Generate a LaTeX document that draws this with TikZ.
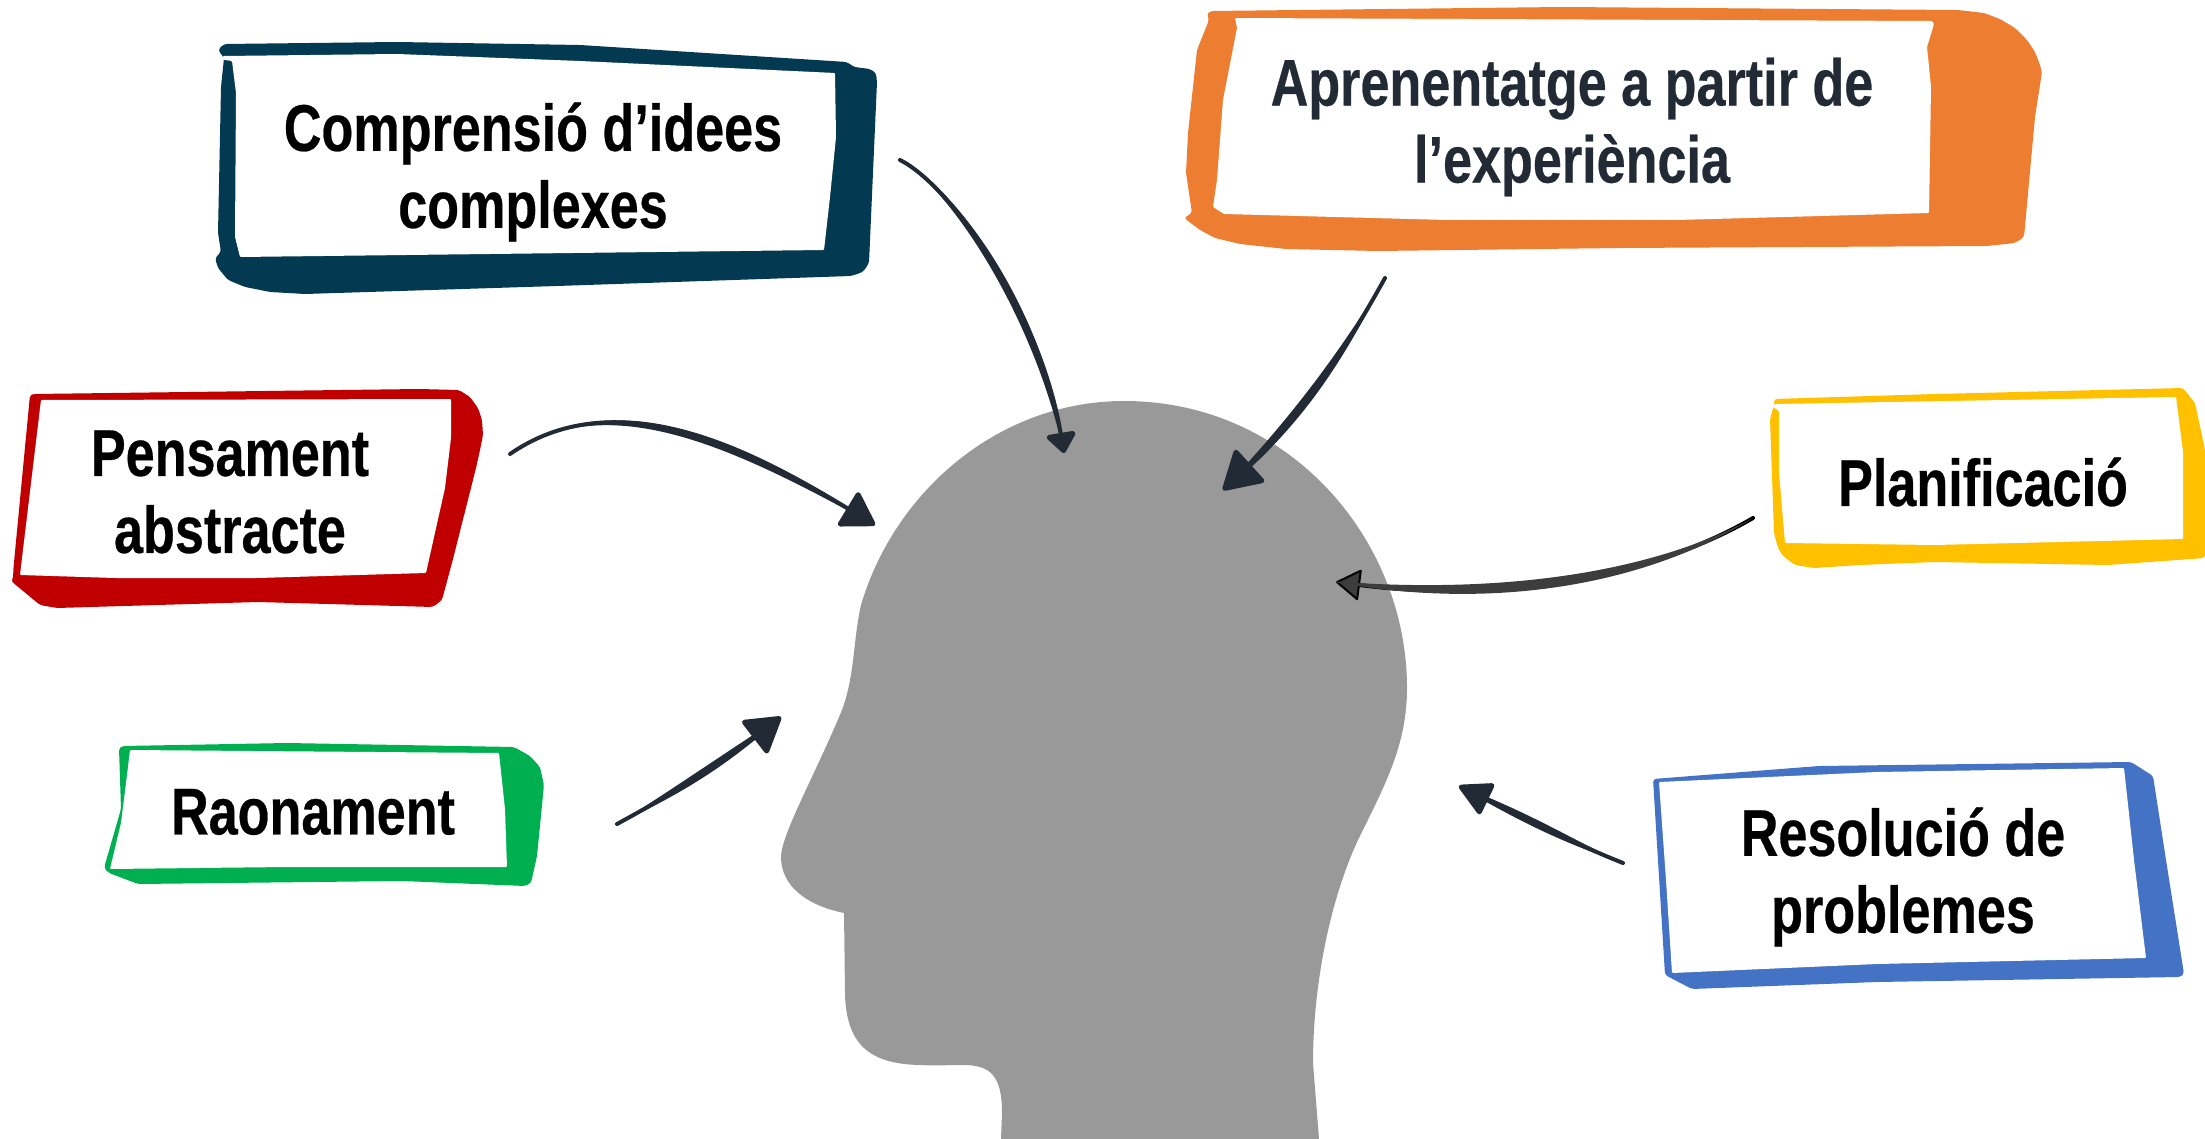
\documentclass[tikz,border=0pt]{standalone}
\usepackage{fontspec}
\usetikzlibrary{arrows.meta,calc}
\newfontfamily\labfont[FakeStretch=0.79,BoldFeatures={FakeBold=0.4}]{Liberation Sans}
\definecolor{navy}{HTML}{033A52}
\definecolor{orng}{HTML}{ED7D31}
\definecolor{rd}{HTML}{C00000}
\definecolor{grn}{HTML}{00B050}
\definecolor{yel}{HTML}{FFC000}
\definecolor{blu}{HTML}{4472C4}
\definecolor{ink}{HTML}{222B35}
\definecolor{headgray}{HTML}{999999}
\tikzset{
  x=1pt,y=-1pt,
  label text/.style={font=\labfont\bfseries\fontsize{66}{77}\selectfont,align=center,inner sep=0pt,text=black},
  frame/.style={rounded corners=3pt},
  inner white/.style={fill=white,rounded corners=1pt},
  conn/.style={draw=ink,line width=4pt,line cap=round,line join=round,taper fill/.style={fill=ink,draw=none}},
  conngray/.style={draw=black,line width=4pt,line cap=round,line join=round,taper fill/.style={fill=black!76,draw=none}},
}
% name s c1 c2 e d style tipopts
\newcommand{\taperarrow}[8]{%
  \coordinate (#1s) at #2;
  \coordinate (#1e) at #5;
  \draw[#7,-{Triangle[round,#8]}] (#1s) .. controls #3 and #4 .. (#1e);
  \path[#7,taper fill] (#1s)
    .. controls ($#3+0.9*(#6)$) and ($#4+2*(#6)$) .. ($(#1e)+0.1*(#6)$)
    -- ($(#1e)-0.1*(#6)$)
    .. controls ($#4-2*(#6)$) and ($#3-0.9*(#6)$) .. (#1s) -- cycle;
}
\begin{document}
\begin{tikzpicture}
\useasboundingbox (0,0) rectangle (2205,1139);
% head
\fill[headgray] (1001,1139) -- (1002,1113) .. controls (1002,1075) and (990,1065) .. (963,1065)
  .. controls (945,1065) and (935,1066) .. (920,1065)
  .. controls (870,1064) and (846,1045) .. (845,993) -- (844,913)
  .. controls (805,905) and (781,885) .. (781,857)
  .. controls (781,835) and (815,775) .. (842,710)
  .. controls (855,675) and (853,640) .. (861,605)
  .. controls (895,490) and (1000,401) .. (1124,401)
  .. controls (1290,401) and (1407,540) .. (1407,688)
  .. controls (1407,745) and (1385,785) .. (1358,840)
  .. controls (1330,900) and (1313,985) .. (1313,1063)
  -- (1319,1139) -- cycle;
% connectors
\taperarrow{aa}{(900,160)}{(950,185)}{(1040,310)}{(1064,453)}{3.5,-0.6}{conn}{length=22pt,width=33pt,line width=5pt}
\taperarrow{ab}{(1385,278)}{(1345,350)}{(1300,420)}{(1223,490)}{2.6,2.9}{conn}{length=40pt,width=46pt,line width=5pt}
\taperarrow{ac}{(510,454)}{(610,385)}{(735,440)}{(875,525)}{1.8,-3}{conn}{length=35pt,width=42pt,line width=5pt}
\taperarrow{ad}{(617,824)}{(665,798)}{(715,768)}{(781,717)}{2.2,2.7}{conn}{length=37pt,width=44pt,line width=5pt}
\taperarrow{ae}{(1753,518)}{(1650,578)}{(1500,603)}{(1336,582)}{0.7,4.5}{conngray}{length=25pt,width=32pt,line width=2pt,fill=black!76}
\taperarrow{af}{(1623,863)}{(1570,842)}{(1530,820)}{(1459,786)}{1.5,-3}{conn}{length=35pt,width=36pt,line width=5pt}
% box 1
\fill[navy,frame] (218,50)--(224,44)--(397,42)--(580,45)--(847,62)--(854,67)--(870,69)--(876,73)--(877,82)--(869,263)--(863,272)--(851,276)--(557,286)--(305,294)--(270,292)--(245,287)--(228,280)--(218,268)--(215,258)--(221,252)--(218,233)--(221,87)--(224,58)--cycle;
\fill[inner white] (224,56)--(397,54)--(580,61)--(835,73)--(836,137)--(830,197)--(824,250)--(240,257)--(235,237)--(236,93)--(232,61)--(218,59)--cycle;
\node[label text] (t1) at (533,172) {Comprensió d’idees\\complexes};
% box 2
\fill[orng,frame] (1207,13)--(1212,11)--(1562,7)--(1958,10)--(1984,13)--(2000,19)--(2015,28)--(2027,40)--(2035,52)--(2040,65)--(2042,72)--(2035,117)--(2024,237)--(2015,243)--(1987,246)--(1619,248)--(1378,251)--(1286,249)--(1240,244)--(1215,238)--(1200,230)--(1184,218)--(1192,213)--(1186,173)--(1188,133)--(1197,50)--(1209,20)--cycle;
\fill[inner white] (1235,18)--(1932,21)--(1934,24)--(1927,47)--(1931,87)--(1929,213)--(1677,220)--(1447,220)--(1224,214)--(1213,207)--(1217,180)--(1223,100)--(1237,28)--cycle;
\node[label text,text=ink] (t2) at (1572,127) {Aprenentatge a partir de\\l’experiència};
% box 3
\fill[rd,frame] (30,395)--(34,394)--(419,389)--(459,390)--(470,397)--(478,408)--(482,420)--(483,435)--(480,450)--(476,468)--(453,559)--(442,600)--(433,607)--(258,602)--(57,608)--(40,605)--(11,581)--(14,576)--(13,573)--cycle;
\fill[inner white] (41,400)--(451,399)--(451,438)--(445,488)--(426,573)--(258,578)--(115,578)--(20,575)--cycle;
\node[label text] (t3) at (230,492) {Pensament\\abstracte};
% box 4
\fill[grn,frame] (119,748)--(123,746)--(287,743)--(514,747)--(530,756)--(540,767)--(544,785)--(537,856)--(531,883)--(525,886)--(402,881)--(138,884)--(109,873)--(104,868)--(121,809)--cycle;
\fill[inner white] (130,750)--(499,753)--(505,809)--(507,867)--(287,867)--(110,869)--(121,823)--(127,775)--cycle;
\node[label text] (t4) at (313,812) {Raonament};
% box 5
\fill[yel,frame] (1774,399)--(1935,394)--(2183,388)--(2195,403)--(2205,450)--(2205,558)--(2108,565)--(1935,562)--(1860,565)--(1814,568)--(1795,565)--(1783,556)--(1778,548)--(1774,533)--(1770,419)--(1774,405)--cycle;
\fill[inner white] (1776,404)--(2176,397)--(2183,452)--(2183,539)--(1935,545)--(1785,543)--(1779,472)--(1779,411)--(1770,405)--cycle;
\node[label text] (t5) at (1983,482) {Planificació};
% box 6
\fill[blu,frame] (1653,779)--(1819,766)--(2131,762)--(2153,776)--(2166,860)--(2184,974)--(2180,977)--(1877,982)--(1692,989)--(1665,975)--cycle;
\fill[inner white] (1659,782)--(1877,772)--(2124,768)--(2134,860)--(2146,958)--(1877,964)--(1672,973)--(1666,880)--cycle;
\node[label text] (t6) at (1903,877) {Resolució de\\problemes};
\end{tikzpicture}
\end{document}
